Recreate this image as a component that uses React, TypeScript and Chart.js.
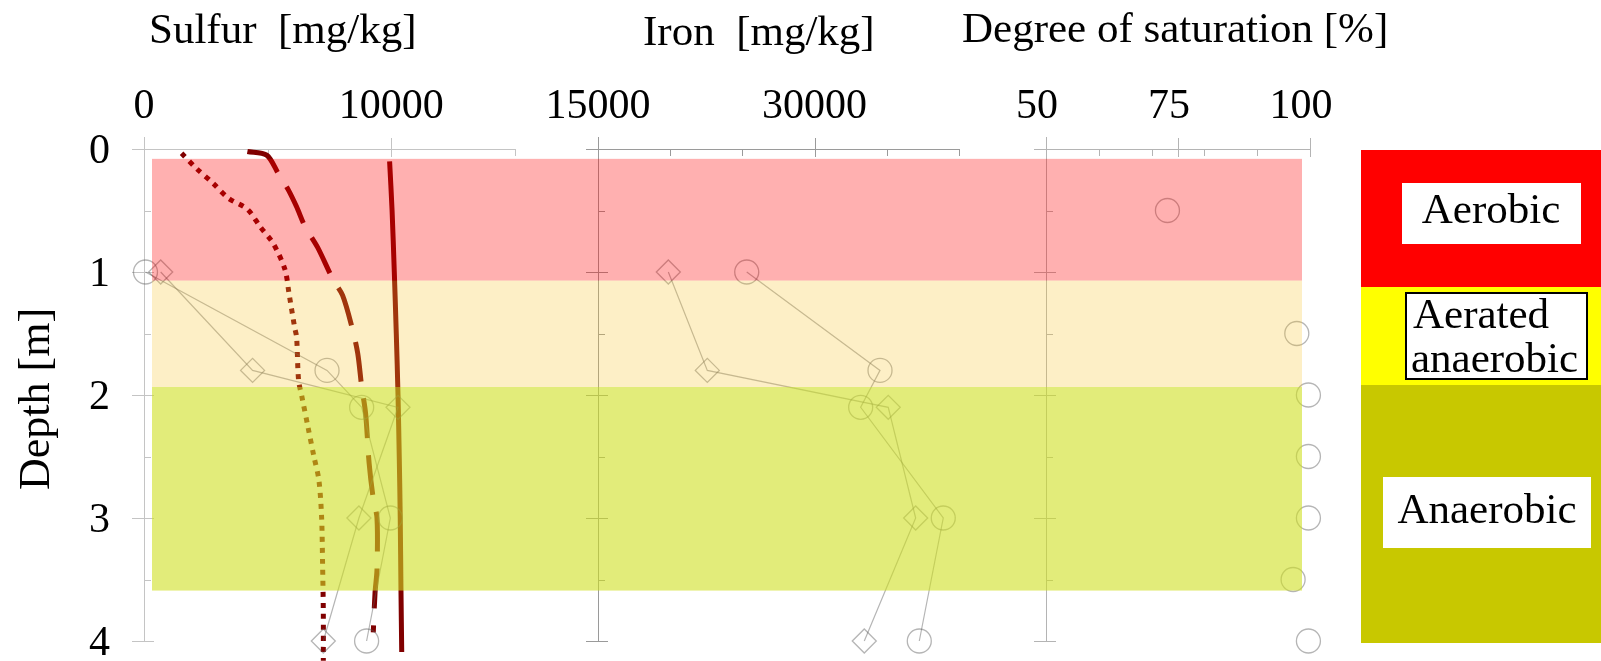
import { useEffect, useRef } from 'react';
import { Chart, registerables } from 'chart.js';

Chart.register(...registerables);

// ---- data ----------------------------------------------------------------
// Depth [m] of the sampled soil layers
const sampleDepths = [1, 1.8, 2.1, 3, 4];
// Sulfur content [mg/kg]
const sulfurCircles = [60, 7400, 8800, 9960, 9000];
const sulfurDiamonds = [675, 4390, 10270, 8690, 7250];
// Iron content [mg/kg]
const ironCircles = [25300, 34530, 33190, 38910, 37250];
const ironDiamonds = [19870, 22570, 35100, 37000, 33440];
// Degree of saturation [%]
const saturationDepths = [0.5, 1.5, 2, 2.5, 3, 3.5, 4];
const saturationValues = [73, 97.5, 99.7, 99.7, 99.7, 96.8, 99.7];

// Modelled sulfur profiles: depth [m] and sulfur [mg/kg]
const solidDepths = [0.1, 0.5, 1, 1.5, 2, 2.5, 3, 3.59, 4.09];
const solidSulfur = [9930, 10030, 10120, 10200, 10270, 10320, 10360, 10390, 10420];
const dashedDepths = [0.02, 0.05, 0.2, 0.33, 0.47, 0.63, 0.8, 1.06, 1.19, 1.45, 1.66, 1.93, 2.15, 2.55, 2.83, 3.0, 3.42, 3.61, 3.93];
const dashedSulfur = [4180, 4960, 5430, 5830, 6170, 6510, 7020, 7640, 8030, 8410, 8640, 8800, 8960, 9100, 9260, 9420, 9420, 9340, 9270];
const dottedDepths = [0.035, 0.16, 0.28, 0.4, 0.49, 0.63, 0.77, 0.98, 1.17, 1.45, 1.53, 1.88, 2.02, 2.26, 2.5, 2.69, 2.99, 3.37, 3.77, 4.16];
const dottedSulfur = [1520, 2130, 2800, 3410, 4180, 4690, 5230, 5700, 5860, 6090, 6170, 6250, 6390, 6630, 6870, 7070, 7180, 7220, 7250, 7250];

// Redox zones: depth range [m]
const zoneTops = [0.08, 1.07, 1.935];
const zoneBottoms = [1.07, 1.935, 3.59];
const zoneNames = ['Aerobic', 'Aerated anaerobic', 'Anaerobic'];

// Axis ticks
const depthTicks = [0, 1, 2, 3, 4];
const depthMinorTicks = [0.5, 1.5, 2.5, 3.5];
const sulfurTicks = [0, 10000];
const sulfurMinorTicks = [5000, 15000];
const ironTicks = [15000, 30000];
const ironMinorTicks = [20000, 25000, 35000, 40000];
const saturationTicks = [50, 75, 100];
const saturationMinorTicks = [60, 70, 80, 90];

// ---- layout ---------------------------------------------------------------
const W = 1601;
const H = 661;
const AREA = { left: 144, right: 1310, top: 149, bottom: 641 };
const FONT = '"Liberation Serif", "Times New Roman", serif';

type Panel = {
  id: string;
  v0: number; p0: number; v1: number; p1: number;
  ticks: number[]; minor: number[];
  title: string; titleX: number; titleY: number;
  labelShift: number; axisColor: string;
};

const panels: Panel[] = [
  { id: 'x', v0: 0, p0: 144, v1: 15000, p1: 515, ticks: sulfurTicks, minor: sulfurMinorTicks,
    title: 'Sulfur  [mg/kg]', titleX: 149, titleY: 43, labelShift: 0, axisColor: '#c4c4c4' },
  { id: 'xI', v0: 15000, p0: 598, v1: 40000, p1: 959, ticks: ironTicks, minor: ironMinorTicks,
    title: 'Iron  [mg/kg]', titleX: 643, titleY: 45, labelShift: 0, axisColor: '#9a9a9a' },
  { id: 'xP', v0: 50, p0: 1046, v1: 100, p1: 1310, ticks: saturationTicks, minor: saturationMinorTicks,
    title: 'Degree of saturation [%]', titleX: 962, titleY: 42, labelShift: -9, axisColor: '#b4b4b4' },
];

const scaleRange = (p: Panel) => {
  const k = (p.v1 - p.v0) / (p.p1 - p.p0);
  return { min: p.v0 - (p.p0 - AREA.left) * k, max: p.v0 + (AREA.right - p.p0) * k };
};

const zoneOverlay = ['rgba(255,0,0,0.31)', 'rgba(248,195,45,0.27)', 'rgba(207,223,33,0.6)'];
const zoneSolid = ['#ff0000', '#ffff00', '#c8c800'];
const LINE_RED = '#800000';
const MARK = 'rgba(90,90,90,0.45)';

const pairs = (xs: number[], ys: number[]) => xs.map((x, i) => ({ x, y: ys[i] }));

const decor = {
  id: 'profileDecor',
  beforeDatasetsDraw(chart: any) {
    const ctx = chart.ctx as CanvasRenderingContext2D;
    const y = chart.scales.y;
    const y0 = y.getPixelForValue(0);
    const y4 = y.getPixelForValue(4);
    ctx.save();
    ctx.lineWidth = 1;
    for (const p of panels) {
      const s = chart.scales[p.id];
      const xs = s.getPixelForValue(p.v0);
      const xe = s.getPixelForValue(p.v1);
      ctx.strokeStyle = p.axisColor;
      ctx.beginPath();
      ctx.moveTo(xs - 12, y0 + 0.5);
      ctx.lineTo(xe, y0 + 0.5);
      ctx.moveTo(xs + 0.5, y0 - 12);
      ctx.lineTo(xs + 0.5, y4);
      for (const t of p.ticks) {
        const px = Math.round(s.getPixelForValue(t)) + 0.5;
        ctx.moveTo(px, y0 - 11);
        ctx.lineTo(px, y0 + 8);
      }
      for (const t of p.minor) {
        const px = Math.round(s.getPixelForValue(t)) + 0.5;
        ctx.moveTo(px, y0);
        ctx.lineTo(px, y0 + 7);
      }
      for (const d of depthTicks) {
        const py = Math.round(y.getPixelForValue(d)) + 0.5;
        ctx.moveTo(xs - 12, py);
        ctx.lineTo(xs + 10, py);
      }
      for (const d of depthMinorTicks) {
        const py = Math.round(y.getPixelForValue(d)) + 0.5;
        ctx.moveTo(xs, py);
        ctx.lineTo(xs + 7, py);
      }
      ctx.stroke();
    }
    ctx.restore();
  },
  afterDatasetsDraw(chart: any) {
    const ctx = chart.ctx as CanvasRenderingContext2D;
    const y = chart.scales.y;
    ctx.save();
    // redox zones laid over the profiles
    zoneTops.forEach((top, i) => {
      const yt = y.getPixelForValue(top);
      const yb = y.getPixelForValue(zoneBottoms[i]);
      ctx.fillStyle = zoneOverlay[i];
      ctx.fillRect(AREA.left + 8, yt, AREA.right - AREA.left - 16, yb - yt);
    });

    // axis titles and tick labels
    ctx.fillStyle = '#000';
    ctx.font = `43px ${FONT}`;
    ctx.textAlign = 'left';
    ctx.textBaseline = 'alphabetic';
    for (const p of panels) ctx.fillText(p.title, p.titleX, p.titleY);
    ctx.font = `42px ${FONT}`;
    ctx.textAlign = 'center';
    for (const p of panels) {
      const s = chart.scales[p.id];
      for (const t of p.ticks) ctx.fillText(String(t), s.getPixelForValue(t) + p.labelShift, 118);
    }
    ctx.textAlign = 'right';
    for (const d of depthTicks) ctx.fillText(String(d), 110, y.getPixelForValue(d) + 14);
    ctx.save();
    ctx.translate(37, (y.getPixelForValue(0) + y.getPixelForValue(4)) / 2 + 4);
    ctx.rotate(-Math.PI / 2);
    ctx.textAlign = 'center';
    ctx.textBaseline = 'middle';
    ctx.font = `44px ${FONT}`;
    ctx.fillText('Depth [m]', 0, 0);
    ctx.restore();

    // zone key column
    const colX = 1361;
    const colEdges = [150, 287, 385, 643];
    zoneSolid.forEach((c, i) => {
      ctx.fillStyle = c;
      ctx.fillRect(colX, colEdges[i], W - colX, colEdges[i + 1] - colEdges[i]);
    });
    ctx.fillStyle = '#fff';
    ctx.fillRect(1402, 183, 179, 61);
    ctx.fillRect(1406, 293, 181, 86);
    ctx.fillRect(1383, 477, 208, 71);
    ctx.strokeStyle = '#000';
    ctx.lineWidth = 2;
    ctx.strokeRect(1406, 293, 181, 86);
    ctx.fillStyle = '#000';
    ctx.font = `43px ${FONT}`;
    ctx.textAlign = 'center';
    ctx.textBaseline = 'alphabetic';
    ctx.fillText(zoneNames[0], 1491, 223);
    const [w1, w2] = zoneNames[1].split(' ');
    ctx.textAlign = 'left';
    ctx.fillText(w1, 1413, 328);
    ctx.fillText(w2, 1411, 372);
    ctx.textAlign = 'center';
    ctx.fillText(zoneNames[2], 1487, 523);
    ctx.restore();
  },
};

export default function App() {
  const ref = useRef<HTMLCanvasElement>(null);

  useEffect(() => {
    if (!ref.current) return;
    const profile = (xs: number[], ds: number[], dash: number[]) => ({
      xAxisID: 'x', data: pairs(xs, ds), showLine: true, borderColor: LINE_RED,
      borderWidth: 5, borderDash: dash, pointRadius: 0, tension: 0.3, clip: false as const,
      borderCapStyle: 'butt' as const,
    });
    const samples = (axis: string, xs: number[], ds: number[], style: string, line: boolean) => ({
      xAxisID: axis, data: pairs(xs, ds), showLine: line, borderColor: MARK, borderWidth: 1.2,
      pointStyle: style, pointRadius: 12, pointBorderWidth: 1.3, pointBorderColor: MARK,
      pointBackgroundColor: 'rgba(0,0,0,0)', tension: 0, clip: false as const,
    });

    const scales: any = {
      y: { type: 'linear', reverse: true, min: 0, max: 4, display: false },
    };
    for (const p of panels) {
      scales[p.id] = { type: 'linear', axis: 'x', position: 'top', display: false, ...scaleRange(p) };
    }

    const chart = new Chart(ref.current, {
      type: 'scatter',
      data: {
        datasets: [
          samples('x', sulfurCircles, sampleDepths, 'circle', true),
          samples('x', sulfurDiamonds, sampleDepths, 'rectRot', true),
          samples('xI', ironCircles, sampleDepths, 'circle', true),
          samples('xI', ironDiamonds, sampleDepths, 'rectRot', true),
          samples('xP', saturationValues, saturationDepths, 'circle', false),
          profile(solidSulfur, solidDepths, []),
          profile(dashedSulfur, dashedDepths, [40, 17]),
          profile(dottedSulfur, dottedDepths, [5, 6]),
        ] as any,
      },
      options: {
        animation: false,
        responsive: false,
        devicePixelRatio: 1,
        layout: {
          padding: { left: AREA.left, right: W - AREA.right, top: AREA.top, bottom: H - AREA.bottom },
        },
        plugins: { legend: { display: false }, tooltip: { enabled: false } },
        events: [],
        scales,
      },
      plugins: [decor],
    });
    return () => chart.destroy();
  }, []);

  return (
    <div style={{ position: 'absolute', left: 0, top: 0, width: W, height: H, background: '#fff' }}>
      <canvas ref={ref} width={W} height={H} style={{ width: W, height: H, display: 'block' }} />
    </div>
  );
}
